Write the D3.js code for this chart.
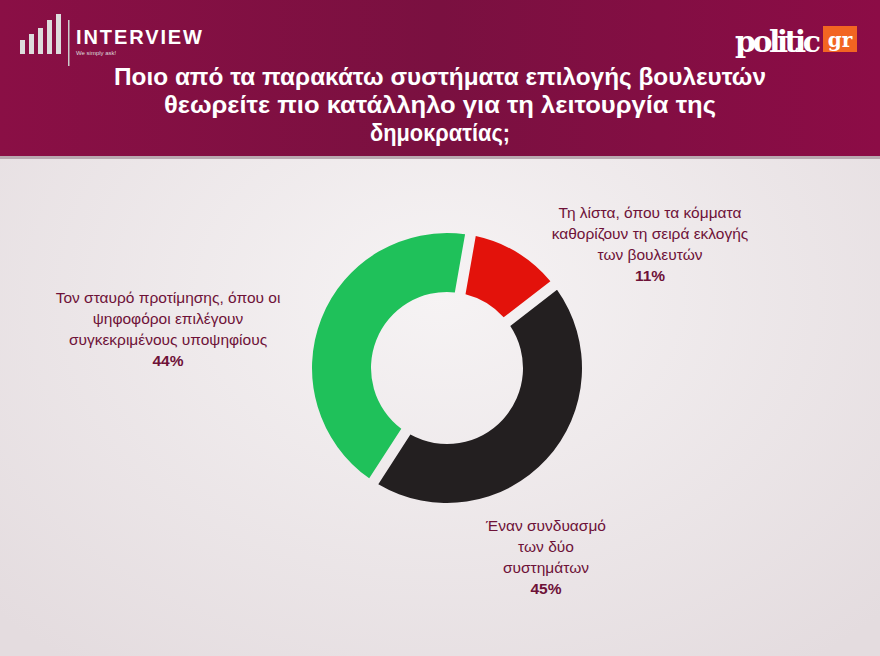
<!DOCTYPE html><html><head><meta charset="utf-8"><script src="https://cdn.jsdelivr.net/npm/d3@7"></script>
<style>body{margin:0}svg{display:block}</style></head><body><svg id="c" width="880" height="656"></svg>
<script>
const categories=["Τη λίστα, όπου τα κόμματα καθορίζουν τη σειρά εκλογής των βουλευτών","Έναν συνδυασμό των δύο συστημάτων","Τον σταυρό προτίμησης, όπου οι ψηφοφόροι επιλέγουν συγκεκριμένους υποψηφίους"];
const values=[11,45,44];
const colors=["#e3120b","#231f20","#1fc15a"];
const labelLines=[["Τη λίστα, όπου τα κόμματα","καθορίζουν τη σειρά εκλογής","των βουλευτών","11%"],["Έναν συνδυασμό","των δύο","συστημάτων","45%"],["Τον σταυρό προτίμησης, όπου οι","ψηφοφόροι επιλέγουν","συγκεκριμένους υποψηφίους","44%"]];
const labelPos=[[650,218],[546,531],[168,303]];
const title=["Ποιο από τα παρακάτω συστήματα επιλογής βουλευτών","θεωρείτε πιο κατάλληλο για τη λειτουργία της","δημοκρατίας;"];
const titleW=[652,552,140];
const svg=d3.select("#c");
const defs=svg.append("defs");
const hg=defs.append("linearGradient").attr("id","hg");
hg.append("stop").attr("offset","0").attr("stop-color","#8a0f45");
hg.append("stop").attr("offset","0.5").attr("stop-color","#7a1040");
hg.append("stop").attr("offset","1").attr("stop-color","#8c0c46");
const bg=defs.append("radialGradient").attr("id","bg").attr("cx","0.5").attr("cy","0.45").attr("r","0.7");
bg.append("stop").attr("offset","0").attr("stop-color","#f6f3f4");
bg.append("stop").attr("offset","1").attr("stop-color","#e4dcdf");
svg.append("rect").attr("width",880).attr("height",656).attr("fill","url(#bg)");
svg.append("rect").attr("width",880).attr("height",158).attr("fill","url(#hg)");
svg.append("rect").attr("y",156).attr("width",880).attr("height",3).attr("fill","#b9a9b0");
const lg=svg.append("g");
[14,20,26,34,40].forEach((h,i)=>lg.append("rect").attr("x",20+i*9).attr("y",54-h).attr("width",5).attr("height",h).attr("fill","#ddd"));
lg.append("rect").attr("x",68).attr("y",20).attr("width",1.5).attr("height",46).attr("fill","#ccc");
lg.append("text").attr("x",76).attr("y",44).text("INTERVIEW").attr("fill","#fff").attr("font-family","Liberation Sans, sans-serif").attr("font-weight","bold").attr("font-size",20).attr("textLength",126);
lg.append("text").attr("x",76).attr("y",55).text("We simply ask!").attr("fill","#ddd").attr("font-family","sans-serif").attr("font-size",6);
lg.append("text").attr("x",735).attr("y",52).text("politic").attr("fill","#fff").attr("font-family","DejaVu Serif, serif").attr("font-weight","bold").attr("font-size",30).attr("textLength",86);
lg.append("rect").attr("x",823).attr("y",26).attr("width",34).attr("height",26).attr("fill","#f26522");
lg.append("text").attr("x",840).attr("y",47).attr("text-anchor","middle").text("gr").attr("fill","#fff").attr("font-family","DejaVu Serif, serif").attr("font-weight","bold").attr("font-size",20);
svg.append("g").selectAll("text").data(title).join("text").attr("x",440).attr("y",(d,i)=>85+i*28).attr("text-anchor","middle")
 .attr("fill","#fff").attr("font-family","Liberation Sans, sans-serif").attr("font-weight","bold").attr("font-size",24)
 .attr("textLength",(d,i)=>titleW[i]).attr("lengthAdjust","spacingAndGlyphs").text(d=>d);
const cx=447,cy=368;
const pie=d3.pie().sort(null).startAngle(10/180*Math.PI).endAngle(370/180*Math.PI).padAngle(0.07);
const arc=d3.arc().innerRadius(76).outerRadius(135);
const g=svg.append("g").attr("transform",`translate(${cx},${cy})`);
g.selectAll("path").data(pie(values)).join("path").attr("d",arc).attr("fill",(d,i)=>colors[i]);
svg.append("g").selectAll("text").data(labelLines).join("text")
 .attr("x",(d,i)=>labelPos[i][0]).attr("y",(d,i)=>labelPos[i][1]).attr("text-anchor","middle")
 .attr("fill","#6e1238").attr("font-family","Liberation Sans, Arial, sans-serif").attr("font-size",15.5).attr("font-weight",500)
 .each(function(d){d3.select(this).selectAll("tspan").data(d).join("tspan").attr("x",d3.select(this).attr("x")).attr("dy",(t,j)=>j?21:0).attr("font-weight",(t,j)=>j==d.length-1?"bold":null).text(t=>t);});
</script></body></html>
